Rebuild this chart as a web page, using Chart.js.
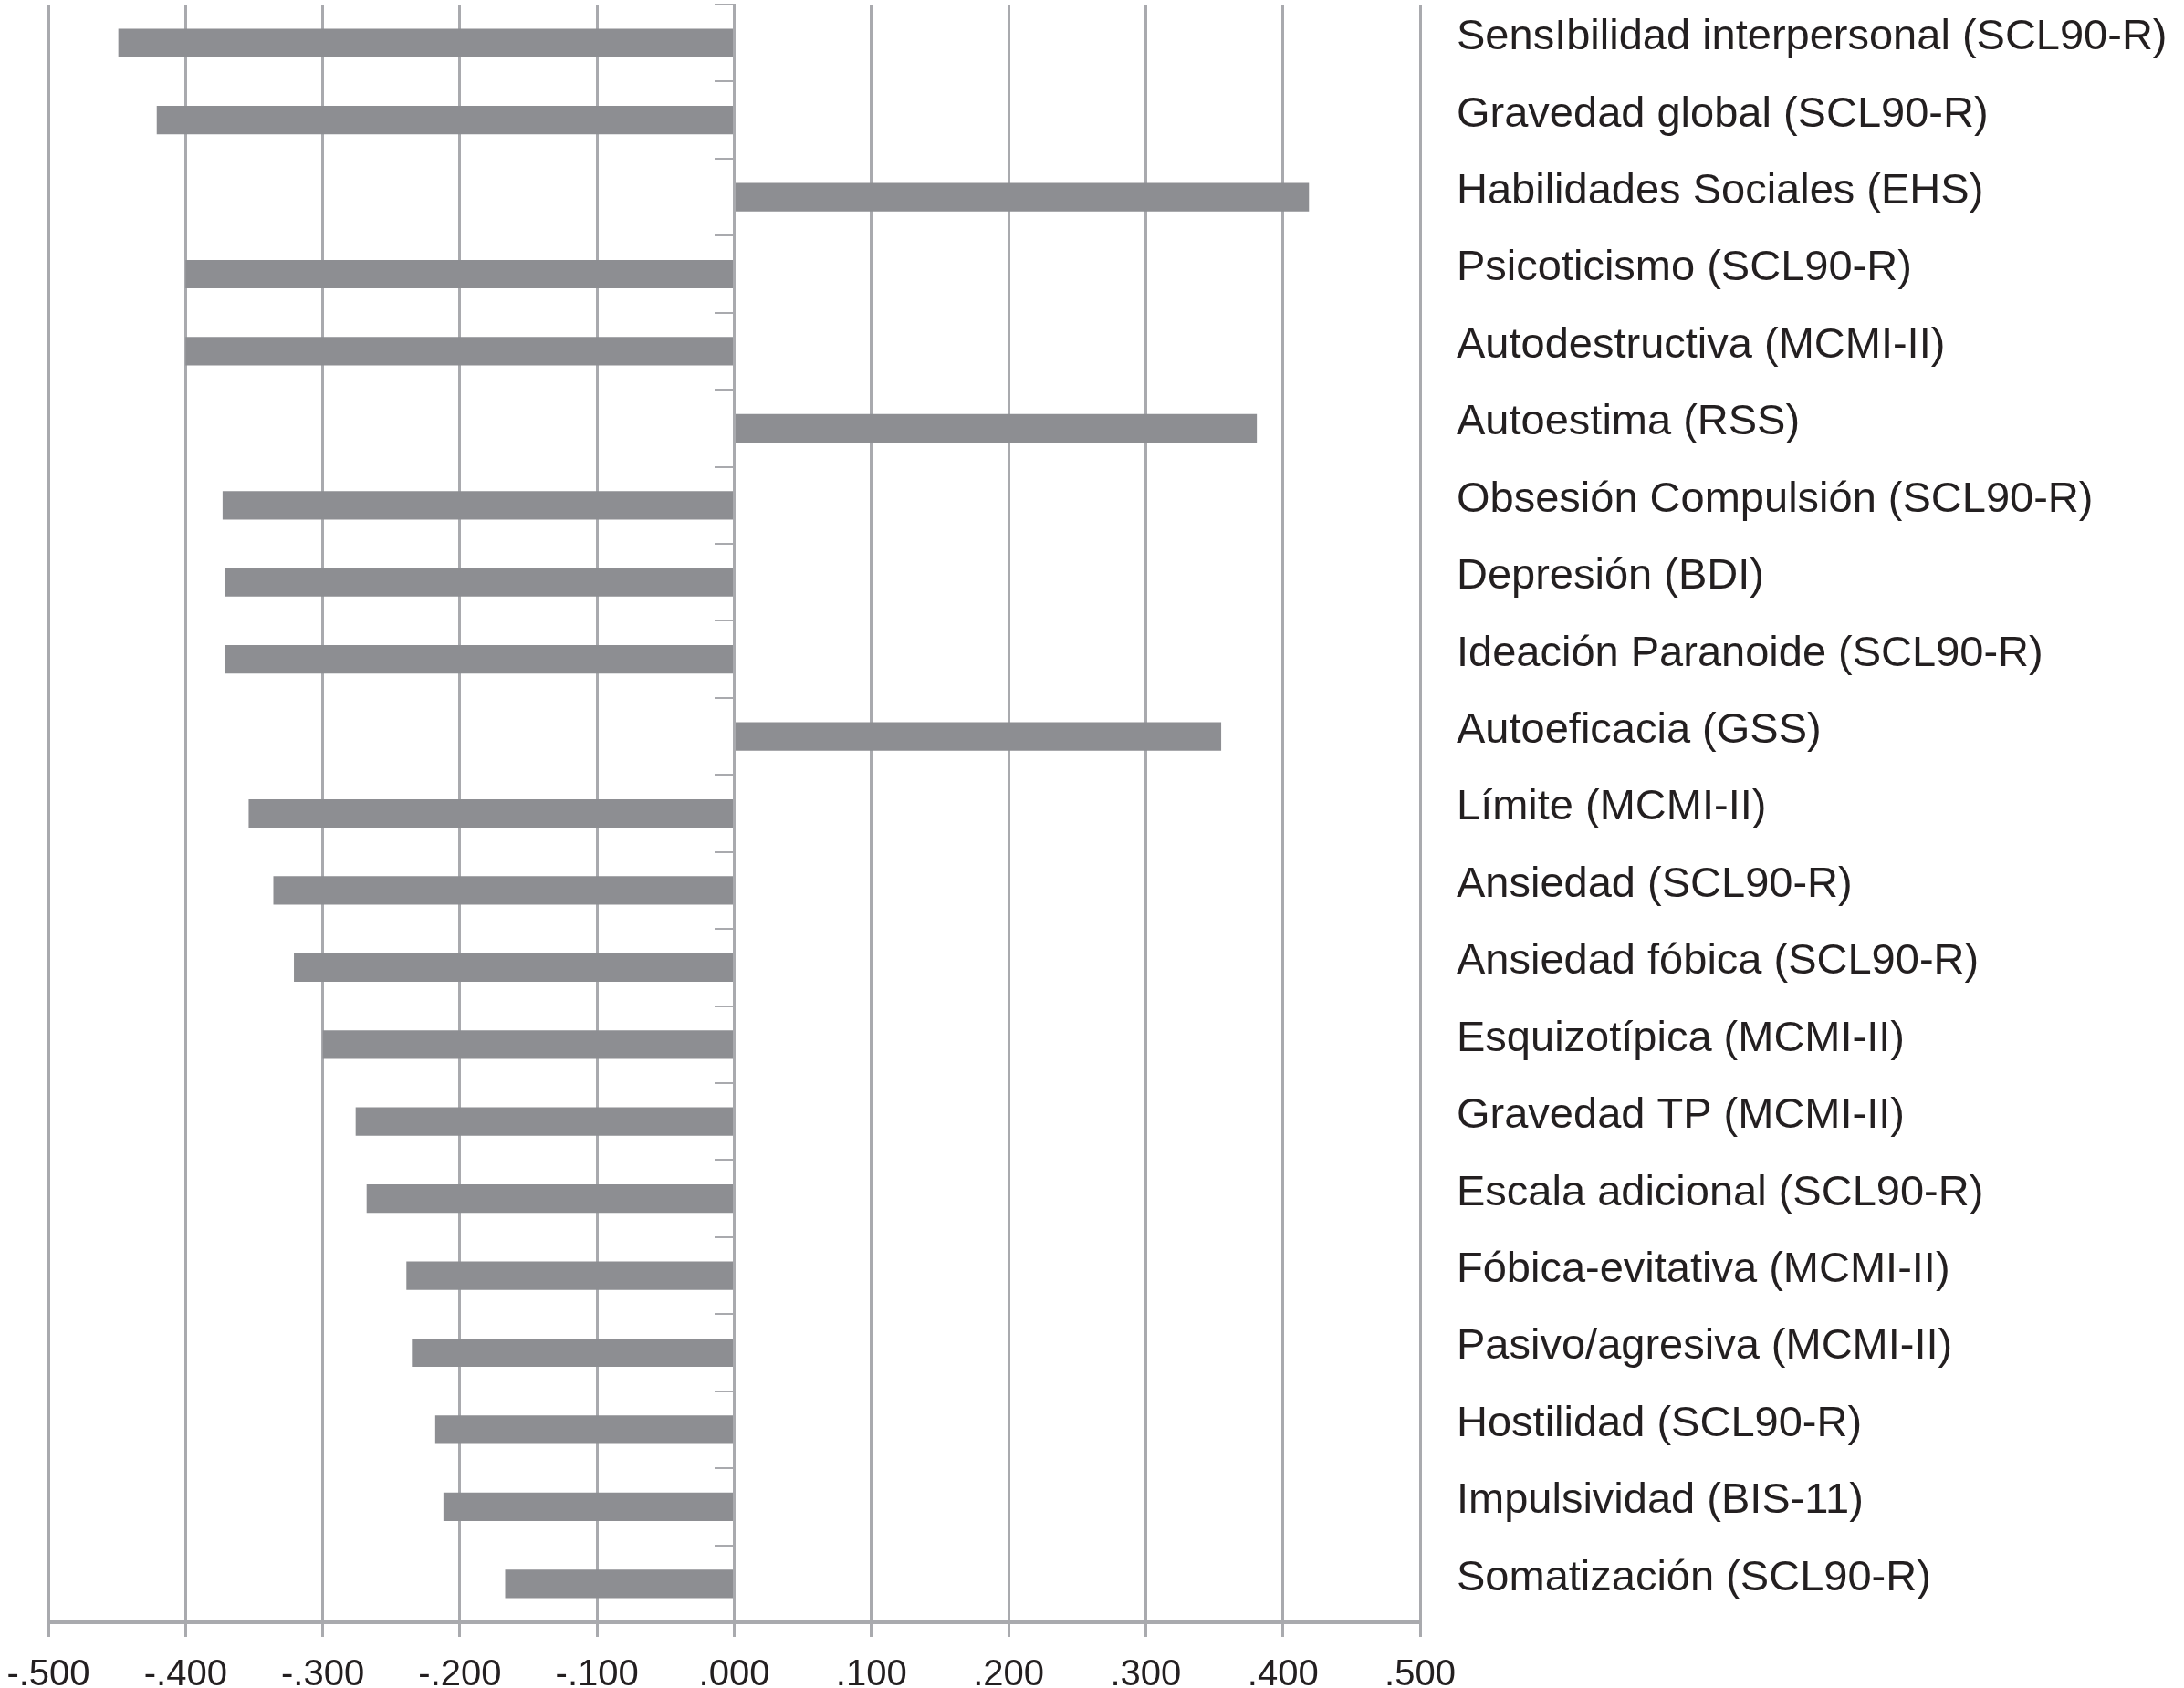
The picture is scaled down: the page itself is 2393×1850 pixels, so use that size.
<!DOCTYPE html>
<html>
<head>
<meta charset="utf-8">
<script src="https://cdn.jsdelivr.net/npm/chart.js@4/dist/chart.umd.min.js"></script>
<style>
  html, body { margin: 0; padding: 0; background: #fff; overflow: hidden; }
  canvas { display: block; }
</style>
</head>
<body>
<canvas id="chart" width="2393" height="1850"></canvas>
<script>
// correlation of each scale, top to bottom as in the figure
const scales = [
  "SensIbilidad interpersonal (SCL90-R)",
  "Gravedad global (SCL90-R)",
  "Habilidades Sociales (EHS)",
  "Psicoticismo (SCL90-R)",
  "Autodestructiva (MCMI-II)",
  "Autoestima (RSS)",
  "Obsesión Compulsión (SCL90-R)",
  "Depresión (BDI)",
  "Ideación Paranoide (SCL90-R)",
  "Autoeficacia (GSS)",
  "Límite (MCMI-II)",
  "Ansiedad (SCL90-R)",
  "Ansiedad fóbica (SCL90-R)",
  "Esquizotípica (MCMI-II)",
  "Gravedad TP (MCMI-II)",
  "Escala adicional (SCL90-R)",
  "Fóbica-evitativa (MCMI-II)",
  "Pasivo/agresiva (MCMI-II)",
  "Hostilidad (SCL90-R)",
  "Impulsividad (BIS-11)",
  "Somatización (SCL90-R)"
];

const correlations = [
  -0.449, -0.421, 0.419, -0.400, -0.400, 0.381, -0.373, -0.371, -0.371, 0.355,
  -0.354, -0.336, -0.321, -0.300, -0.276, -0.268, -0.239, -0.235, -0.218, -0.212,
  -0.167
];

const xTickLabels = [
  "-.500", "-.400", "-.300", "-.200", "-.100", ".000",
  ".100", ".200", ".300", ".400", ".500"
];

const gray = "#a9aaae";
const font = "'Liberation Sans', Arial, Helvetica, sans-serif";

let ctx = document.getElementById("chart").getContext("2d");

let chart = new Chart(ctx, {
  type: "bar",
  data: {
    labels: scales,
    datasets: [
      {
        data: correlations,
        backgroundColor: "#8d8e92",
        borderWidth: 0,
        categoryPercentage: 1,
        barPercentage: 0.37,
      },
    ],
  },
  options: {
    indexAxis: "y",
    responsive: false,
    animation: false,
    devicePixelRatio: 1,
    layout: { padding: { left: 53, right: 0, top: 5, bottom: 0 } },
    plugins: {
      legend: { display: false },
      tooltip: { enabled: false },
    },
    scales: {
      x: {
        type: "linear",
        position: "bottom",
        min: -0.5,
        max: 0.5,
        ticks: {
          stepSize: 0.1,
          padding: 18,
          color: "#231f20",
          font: { family: font, size: 40 },
          callback: (value, index) => xTickLabels[index],
        },
        grid: { color: gray, lineWidth: 3, tickLength: 16 },
        border: { display: true, color: gray, width: 4 },
        afterFit: (scale) => {
          scale.height = 72;
          scale.paddingLeft = 0;
          scale.paddingRight = 0;
        },
      },
      // category axis sitting on the zero line, only tick marks
      y: {
        type: "category",
        position: { x: 0 },
        offset: true,
        ticks: { display: false },
        grid: {
          offset: true,
          drawOnChartArea: false,
          drawTicks: true,
          tickLength: 20,
          color: gray,
          lineWidth: 2,
        },
        border: { display: true, color: gray, width: 3 },
      },
      // second category axis carrying the labels on the right
      y2: {
        type: "category",
        axis: "y",
        position: "right",
        offset: true,
        grid: { display: false },
        border: { display: false },
        ticks: {
          padding: 32,
          labelOffset: -6,
          color: "#231f20",
          font: { family: font, size: 47 },
        },
        afterFit: (scale) => {
          scale.width = 837;
          scale.paddingTop = 0;
          scale.paddingBottom = 0;
        },
      },
    },
  },
});
</script>
</body>
</html>
